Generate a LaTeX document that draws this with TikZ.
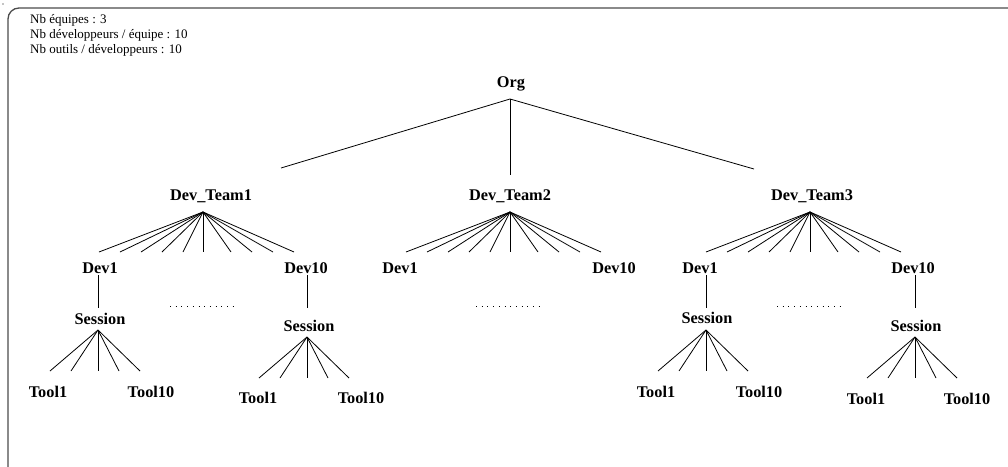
\documentclass[tikz,border=0pt]{standalone}
\usepackage{fontspec}
\setmainfont{Liberation Serif}
\begin{document}
\begin{tikzpicture}[x=1pt,y=-1pt,
  lbl/.style={font=\fontsize{16.3}{18}\selectfont\bfseries, inner sep=0pt, anchor=base},
  info/.style={font=\fontsize{13}{15}\selectfont, inner sep=0pt, anchor=base west},
  link/.style={line width=0.8pt},
  dotrow/.style={line width=0.9pt, dash pattern=on 0.9pt off 4.8pt},
  frame/.style={line width=1.3pt, draw=black!70, rounded corners=11pt}]
\useasboundingbox (0,0) rectangle (1008,466);

% outer frame, running past the page on the right and bottom
\begin{scope}
  \clip (0,0) rectangle (1008,466);
  \draw[frame] (8,8) rectangle (1030,478);
\end{scope}
\fill (3,4) circle (0.6);

% parameters
\node[info] (p1) at (30,23) {Nb équipes : 3};
\node[info] (p2) at (30,38) {Nb développeurs / équipe : 10};
\node[info] (p3) at (30,53) {Nb outils / développeurs : 10};

% root and teams
\node[lbl] (org) at (511,87) {Org};
\node[lbl] (team1) at (211,200) {Dev\_Team1};
\node[lbl] (team2) at (510,200) {Dev\_Team2};
\node[lbl] (team3) at (812,200) {Dev\_Team3};

\coordinate (orgfoot) at (510,99);
\coordinate (t1top) at (281,168);
\coordinate (t2top) at (510,175);
\coordinate (t3top) at (754,169);
\draw[link] (orgfoot) -- (t1top);
\draw[link] (orgfoot) -- (t2top);
\draw[link] (orgfoot) -- (t3top);

% ten developers per team
\foreach \t/\ax in {1/203, 2/510, 3/810} {
  \coordinate (fan\t) at (\ax,212);
  \foreach \dx [count=\k] in {-104,-83,-62,-41,-20,0,28,49,70,91} {
    \path (fan\t) ++(\dx,40) coordinate (leaf\t-\k);
    \draw[link] (fan\t) -- (leaf\t-\k);
  }
}

% developer labels
\node[lbl] (d1a) at (100,273) {Dev1};
\node[lbl] (d1b) at (306,273) {Dev10};
\node[lbl] (d2a) at (400,273) {Dev1};
\node[lbl] (d2b) at (614,273) {Dev10};
\node[lbl] (d3a) at (700,273) {Dev1};
\node[lbl] (d3b) at (913,273) {Dev10};

% sessions
\node[lbl] (s1a) at (100,324) {Session};
\node[lbl] (s1b) at (309,331) {Session};
\node[lbl] (s3a) at (707,323) {Session};
\node[lbl] (s3b) at (916,331) {Session};

\foreach \n/\x/\ya in {1a/98/330, 1b/307/337, 3a/706/330, 3b/915/337} {
  \coordinate (dtop\n) at (\x,275);
  \coordinate (dbot\n) at (\x,308);
  \draw[link] (dtop\n) -- (dbot\n);
  \coordinate (sfan\n) at (\x,\ya);
  \foreach \dx [count=\k] in {-48,-27,0,21,42} {
    \path (sfan\n) ++(\dx,41) coordinate (tool\n-\k);
    \draw[link] (sfan\n) -- (tool\n-\k);
  }
}

% tools
\node[lbl] (u1a1) at (48,397) {Tool1};
\node[lbl] (u1a2) at (151,397) {Tool10};
\node[lbl] (u1b1) at (258,403) {Tool1};
\node[lbl] (u1b2) at (361,403) {Tool10};
\node[lbl] (u3a1) at (656,397) {Tool1};
\node[lbl] (u3a2) at (759,397) {Tool10};
\node[lbl] (u3b1) at (866,404) {Tool1};
\node[lbl] (u3b2) at (967,404) {Tool10};

% ellipsis rows
\foreach \t/\ax in {1/170, 2/476, 3/777} {
  \coordinate (dl\t) at (\ax,306);
  \coordinate (dr\t) at (\ax+68,306);
  \draw[dotrow] (dl\t) -- (dr\t);
}
\end{tikzpicture}
\end{document}
